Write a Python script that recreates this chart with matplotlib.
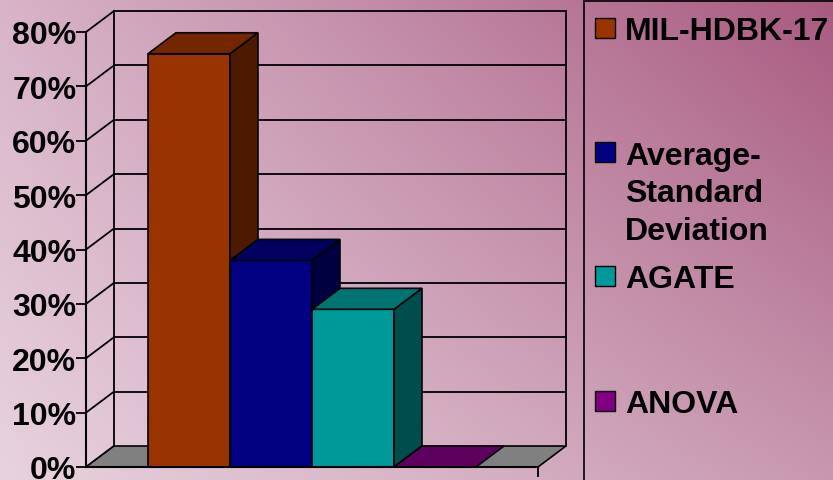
import matplotlib
matplotlib.use("Agg")
import matplotlib.pyplot as plt
import numpy as np
from matplotlib.patches import Polygon, Rectangle

# ---- data ----
methods = ["MIL-HDBK-17", "Average-\nStandard\nDeviation", "AGATE", "ANOVA"]
values = [76, 38, 29, 0]          # percent
yticks = [0, 10, 20, 30, 40, 50, 60, 70, 80]

# ---- styling ----
front_cols = ["#993300", "#000080", "#009999", "#800080"]
top_cols = ["#732600", "#00005e", "#007373", "#5e005e"]
side_cols = ["#4d1a00", "#000040", "#004d4d", "#400040"]
legend_y_px = [29, 153, 277, 402]
FS = 23
W, H = 833, 481

plt.rcParams['font.family'] = ['Liberation Sans', 'DejaVu Sans']
plt.rcParams['font.weight'] = 'bold'

fig = plt.figure(figsize=(W / 100, H / 100), dpi=100)

# background gradient (dark mauve top-right -> light pink bottom-left)
bg = fig.add_axes([0, 0, 1, 1], zorder=-10)
tl = np.array([216, 180, 200]) / 255
tr = np.array([168, 90, 128]) / 255
bl = np.array([232, 210, 222]) / 255
br = np.array([200, 152, 176]) / 255
u = np.linspace(0, 1, 200)[None, :, None]
v = np.linspace(0, 1, 120)[:, None, None]
img = (1 - v) * ((1 - u) * tl + u * tr) + v * ((1 - u) * bl + u * br)
bg.imshow(img, aspect='auto', extent=[0, 1, 0, 1], interpolation='bilinear')
bg.axis('off')

# main axes = front plane of the 3d box
ax = fig.add_axes([86 / W, (H - 468) / H, 452 / W, 435 / H])
ax.patch.set_visible(False)
x0, x1 = -1.256, 4.256
ax.set_xlim(x0, x1)
ax.set_ylim(0, 80)
dx, dy = 0.341, 3.86   # depth offset in data units

lk = dict(color='black', lw=1.3, clip_on=False, zorder=0.5)
# back wall
for t in yticks[1:]:
    ax.plot([x0 + dx, x1 + dx], [t + dy, t + dy], **lk)
for t in yticks:
    ax.plot([x0, x0 + dx], [t, t + dy], **lk)
ax.plot([x0 + dx, x0 + dx], [dy, 80 + dy], **lk)
ax.plot([x1 + dx, x1 + dx], [dy, 80 + dy], **lk)

# floor
ax.add_patch(Polygon([(x0, 0), (x1, 0), (x1 + dx, dy), (x0 + dx, dy)],
                     closed=True, fc="#808080", ec='black', lw=1.2,
                     clip_on=False, zorder=1))

# bars, left to right
for i, val in enumerate(values):
    l, r = i - 0.5, i + 0.5
    pk = dict(ec='black', lw=1.2, clip_on=False, zorder=2)
    if val > 0:
        ax.add_patch(Polygon([(l, 0), (r, 0), (r, val), (l, val)],
                             fc=front_cols[i], **pk))
        ax.add_patch(Polygon([(r, 0), (r + dx, dy), (r + dx, val + dy), (r, val)],
                             fc=side_cols[i], **pk))
    ax.add_patch(Polygon([(l, val), (r, val), (r + dx, val + dy), (l + dx, val + dy)],
                         fc=top_cols[i], **pk))

# axes lines / ticks
for s in ['top', 'right']:
    ax.spines[s].set_visible(False)
ax.spines['left'].set_linewidth(1.5)
ax.spines['bottom'].set_linewidth(1.5)
ax.spines['left'].set_zorder(3)
ax.spines['bottom'].set_zorder(3)
ax.set_yticks(yticks)
ax.set_yticklabels([f"{t}%" for t in yticks], fontsize=FS, fontweight='bold')
ax.tick_params(axis='y', length=7, width=1.3, pad=0)
ax.set_xticks([x1])
ax.set_xticklabels([""])
ax.tick_params(axis='x', length=7, width=1.3)

# legend box
fig.patches.append(Rectangle((584 / W, -0.05), 0.5, 1 - 2 / H + 0.05,
                             transform=fig.transFigure, fc='none', ec='black',
                             lw=1.2, zorder=5))
line_h = 37.5
for name, col, yc in zip(methods, front_cols, legend_y_px):
    fig.patches.append(Rectangle((595 / W, 1 - (yc + 10) / H), 20 / W, 20 / H,
                                 transform=fig.transFigure, fc=col, ec='black',
                                 lw=1.0, zorder=5))
    for k, line in enumerate(name.split("\n")):
        yb = yc + k * line_h + 0.36 * FS * 100 / 72
        fig.text(625 / W, 1 - yb / H, line, fontsize=FS, fontweight='bold',
                 ha='left', va='baseline', zorder=6)

fig.savefig("out.png", dpi=100)
